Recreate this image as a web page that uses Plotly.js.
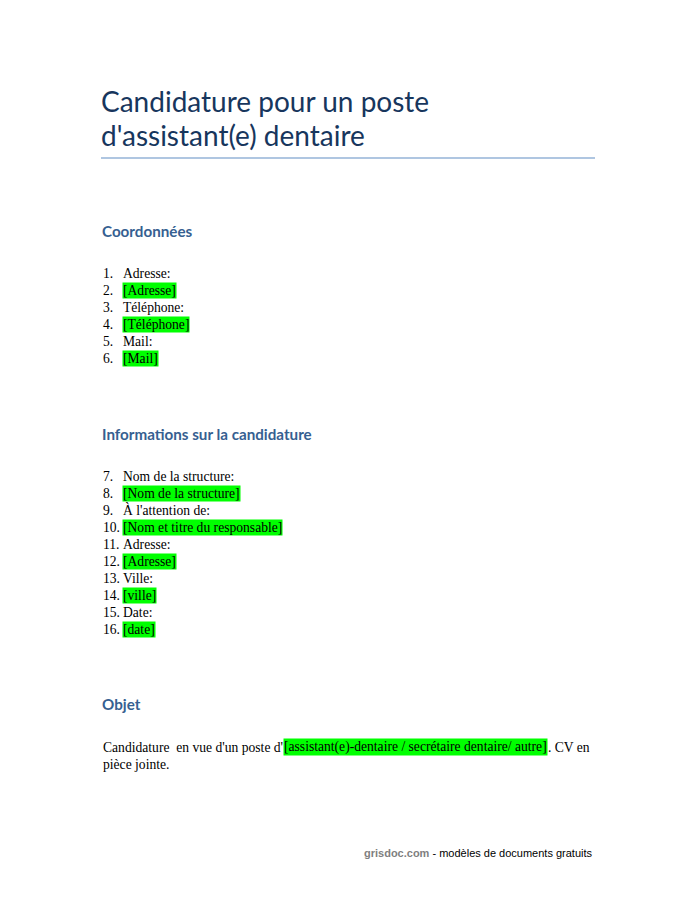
<!DOCTYPE html>
<html><head><meta charset="utf-8">
<script src="https://cdn.plot.ly/plotly-3.0.1.min.js"></script>
<style>html,body{margin:0;padding:0;background:#fff;}</style>
</head><body>
<div id="chart" style="width:695px;height:900px;"></div>
<script>
const titleLines = ["Candidature pour un poste", "d'assistant(e) dentaire"];
const sectionTitles = ["Coordonnées", "Informations sur la candidature", "Objet"];
const coordItems = ["Adresse:", "[Adresse]", "Téléphone:", "[Téléphone]", "Mail:", "[Mail]"];
const infoItems = ["Nom de la structure:", "[Nom de la structure]", "À l'attention de:", "[Nom et titre du responsable]",
  "Adresse:", "[Adresse]", "Ville:", "[ville]", "Date:", "[date]"];
const objetParts = ["Candidature  en vue d'un poste d'", "[assistant(e)-dentaire / secrétaire dentaire/ autre]", ". CV en"];
const objetLine2 = "pièce jointe.";
const footerSite = "grisdoc.com";
const footerText = " - modèles de documents gratuits";

const GREEN = "#00ff00";
const serif = "Liberation Serif, DejaVu Serif, serif";
const sans = "Lato, Open Sans, sans-serif";
const BODY = 13.6;
const ann = [];
function txt(x, y, text, opts) {
  ann.push(Object.assign({x: x, y: y, xref: "x", yref: "y", text: text, showarrow: false,
    xanchor: "left", yanchor: "middle", align: "left", borderpad: 0,
    font: {family: serif, size: BODY, color: "#000"}}, opts || {}));
}
const ctx = document.createElement("canvas").getContext("2d");
ctx.font = BODY + "px 'Liberation Serif'";
function w(s) { return ctx.measureText(s).width; }

// title
titleLines.forEach((t, i) => txt(100, 101 + i * 34, t, {font: {family: sans, size: 28, color: "#17365D"}}));
// section headings
const headY = [231, 434, 704];
sectionTitles.forEach((t, i) => txt(101, headY[i], "<b>" + t + "</b>", {font: {family: sans, size: 15.2, color: "#365F91"}}));
// lists
function list(items, startNum, y0) {
  items.forEach((t, i) => {
    const y = y0 + i * 17;
    const n = startNum + i;
    txt(102, y, n + ".");
    const hl = t.startsWith("[");
    txt(122, y, t, hl ? {bgcolor: GREEN} : {});
  });
}
list(coordItems, 1, 273);
list(infoItems, 7, 476);
// paragraph (flowed with measured widths)
let px = 102;
txt(px, 747, objetParts[0]);
px += w(objetParts[0]) + 1;
txt(px, 747, objetParts[1], {bgcolor: GREEN});
px += w(objetParts[1]) + 1;
txt(px, 747, objetParts[2]);
txt(102, 764, objetLine2);
// footer
txt(594, 853, "<span style='color:#7f7f7f'><b>" + footerSite + "</b></span>" + footerText,
  {xanchor: "right", font: {family: "Liberation Sans, Arial, sans-serif", size: 11, color: "#000"}});

const layout = {
  width: 695, height: 900,
  margin: {l: 0, r: 0, t: 0, b: 0},
  paper_bgcolor: "#fff", plot_bgcolor: "#fff",
  xaxis: {range: [0, 695], visible: false, fixedrange: true},
  yaxis: {range: [900, 0], visible: false, fixedrange: true},
  showlegend: false,
  annotations: ann,
  shapes: [{type: "line", xref: "x", yref: "y", x0: 101, x1: 595, y0: 158, y1: 158,
    line: {color: "#95B3D7", width: 1.5}}]
};
Plotly.newPlot("chart", [], layout, {staticPlot: true, displayModeBar: false});
</script>
</body></html>
